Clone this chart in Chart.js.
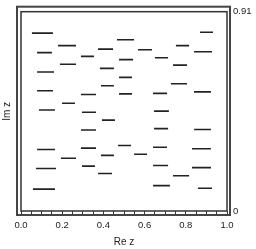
<!DOCTYPE html>
<html>
<head>
<meta charset="utf-8">
<script src="https://cdn.jsdelivr.net/npm/chart.js@4/dist/chart.umd.min.js"></script>
<style>
  html, body { margin: 0; padding: 0; background: #fff; }
  #wrap { width: 256px; height: 249px; }
</style>
</head>
<body>
<div id="wrap"><canvas id="zplot"></canvas></div>
<script>
  // horizontal segments: start Re z, end Re z, Im z
  const segStart = [
    0.053, 0.078, 0.078, 0.078, 0.087, 0.078, 0.073, 0.058,
    0.180, 0.189, 0.199, 0.194,
    0.291, 0.291, 0.296, 0.291, 0.291, 0.296,
    0.374, 0.383, 0.388, 0.393, 0.388, 0.374,
    0.466, 0.476, 0.476, 0.476, 0.471,
    0.568, 0.549,
    0.650, 0.641, 0.646, 0.646, 0.641, 0.641, 0.641,
    0.752, 0.738, 0.728, 0.738,
    0.869, 0.840, 0.840, 0.840, 0.830, 0.830, 0.859
  ];
  const segEnd = [
    0.155, 0.150, 0.160, 0.155, 0.165, 0.165, 0.170, 0.165,
    0.267, 0.267, 0.262, 0.267,
    0.354, 0.364, 0.364, 0.364, 0.364, 0.359,
    0.447, 0.451, 0.451, 0.456, 0.451, 0.442,
    0.549, 0.544, 0.539, 0.539, 0.534,
    0.636, 0.612,
    0.714, 0.709, 0.718, 0.714, 0.709, 0.714, 0.723,
    0.816, 0.806, 0.806, 0.816,
    0.932, 0.927, 0.922, 0.922, 0.922, 0.922, 0.927
  ];
  const segIm = [
    0.812, 0.723, 0.635, 0.549, 0.461, 0.281, 0.194, 0.100,
    0.755, 0.670, 0.492, 0.241,
    0.706, 0.532, 0.451, 0.370, 0.287, 0.205,
    0.739, 0.651, 0.572, 0.415, 0.254, 0.171,
    0.782, 0.691, 0.610, 0.535, 0.299,
    0.736, 0.259,
    0.700, 0.537, 0.456, 0.376, 0.291, 0.208, 0.116,
    0.755, 0.666, 0.581, 0.161,
    0.816, 0.727, 0.544, 0.372, 0.284, 0.198, 0.104
  ];
  const xMin = 0, xMax = 1, xStep = 0.05;
  const yTicks = [0, 0.91];

  const ink = '#222';
  const font = 'Liberation Sans, Arial, sans-serif';

  const datasets = segIm.map((im, i) => ({
    data: [{x: segStart[i], y: im}, {x: segEnd[i], y: im}],
    showLine: true,
    borderColor: ink,
    borderWidth: 1.6,
    borderCapStyle: 'butt',
    pointRadius: 0,
    yAxisID: 'y'
  }));

  // double frame round the plot area
  const framePlugin = {
    id: 'doubleFrame',
    afterDraw(chart) {
      const a = chart.chartArea, c = chart.ctx;
      c.save();
      c.strokeStyle = '#333';
      c.lineWidth = 1.5;
      c.strokeRect(a.left, a.top, a.right - a.left, a.bottom - a.top);
      c.strokeStyle = '#444';
      c.lineWidth = 2;
      c.strokeRect(a.left - 4, a.top - 5, a.right - a.left + 7, a.bottom - a.top + 9);
      c.restore();
    }
  };

  new Chart(document.getElementById('zplot'), {
    type: 'scatter',
    data: { datasets },
    options: {
      responsive: true,
      maintainAspectRatio: false,
      animation: false,
      layout: { padding: { top: 7, right: 0, bottom: 0, left: 0 } },
      plugins: { legend: { display: false }, tooltip: { enabled: false } },
      scales: {
        x: {
          type: 'linear', min: xMin, max: xMax,
          grid: { drawOnChartArea: false, tickLength: 4, color: '#333' },
          border: { display: false },
          ticks: {
            stepSize: xStep, autoSkip: false, maxRotation: 0, padding: 5,
            color: ink, font: { family: font, size: 9.5 },
            callback: v => Math.abs(v * 5 - Math.round(v * 5)) < 1e-6 ? v.toFixed(1) : ''
          },
          title: { display: true, text: 'Re z', color: ink, font: { family: font, size: 10 }, padding: { top: 0, bottom: 1 } },
          afterFit(s) { s.height = 38; }
        },
        y: {
          type: 'linear', position: 'right', min: yTicks[0], max: yTicks[1],
          grid: { drawOnChartArea: false, drawTicks: false },
          border: { display: false },
          ticks: { padding: 6, color: ink, font: { family: font, size: 9.5 }, callback: v => String(v) },
          afterBuildTicks(s) { s.ticks = yTicks.map(v => ({ value: v })); },
          afterFit(s) { s.width = 29; }
        },
        yl: {
          type: 'linear', position: 'left', min: 0, max: 1,
          grid: { display: false },
          border: { display: false },
          ticks: { display: false },
          title: { display: true, text: 'Im z', color: ink, font: { family: font, size: 10 }, padding: { top: 1, bottom: 0 } },
          afterFit(s) { s.width = 21; }
        }
      }
    },
    plugins: [framePlugin]
  });
</script>
</body>
</html>
